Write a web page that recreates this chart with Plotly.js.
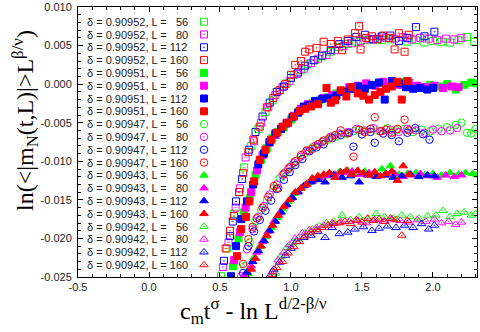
<!DOCTYPE html>
<html><head><meta charset="utf-8">
<script src="https://cdn.plot.ly/plotly-3.0.1.min.js"></script>
<style>html,body{margin:0;padding:0;background:#fff}#plot{width:480px;height:332px}</style>
</head><body><div id="plot"></div>
<script>
// ---------- DATA ----------
const deltas = ["0.90952", "0.90951", "0.90947", "0.90943", "0.90942"];
const sizesL = [56, 80, 112, 160];
const xTickVals = [-0.5, 0, 0.5, 1, 1.5, 2];
const xTickText = ["-0.5", "0.0", "0.5", "1.0", "1.5", "2.0"];
const yTickVals = [0.010, 0.005, 0, -0.005, -0.010, -0.015, -0.020, -0.025];
const yTickText = ["0.010", "0.005", "0.000", "-0.005", "-0.010", "-0.015", "-0.020", "-0.025"];

// delta = 0.90952 (open squares)
const d90952_L56_x = [0.507,0.55,0.60,0.635,0.67,0.72,0.77,0.82,0.87,0.92,0.97,1.02,1.07,1.12,1.17,1.22,1.28,1.34,1.40,1.46,1.52,1.58,1.64,1.70,1.76,1.82,1.88,1.94,2.00,2.06,2.12,2.18,2.24,2.29];
const d90952_L56_y = [-0.0249,-0.0213,-0.0168,-0.0140,-0.0108,-0.0080,-0.0058,-0.0036,-0.0021,-0.0008,0.0001,0.0012,0.0018,0.0026,0.0031,0.0036,0.0042,0.0048,0.0052,0.0055,0.0057,0.0058,0.0057,0.0058,0.0056,0.0055,0.0057,0.0054,0.0056,0.0055,0.0054,0.0057,0.0061,0.0055];
const d90952_L80_x = [0.52,0.56,0.61,0.64,0.68,0.74,0.79,0.84,0.89,0.94,0.99,1.04,1.09,1.14,1.19,1.25,1.31,1.37,1.43,1.49,1.55,1.61,1.67,1.73,1.79,1.85,1.91,1.97,2.03,2.09,2.15,2.20];
const d90952_L80_y = [-0.0237,-0.0205,-0.0160,-0.0135,-0.0095,-0.0074,-0.0050,-0.0030,-0.0014,-0.0004,0.0004,0.0013,0.0020,0.0027,0.0033,0.0038,0.0044,0.0049,0.0053,0.0056,0.0058,0.0059,0.0060,0.0059,0.0061,0.0058,0.0060,0.0059,0.0057,0.0059,0.0058,0.0060];
const d90952_L112_x = [0.528,0.57,0.59,0.613,0.656,0.706,0.75,0.80,0.85,0.90,0.95,1.00,1.05,1.10,1.16,1.22,1.28,1.34,1.40,1.46,1.52,1.58,1.64,1.70,1.76,1.82,1.88,1.94,2.01];
const d90952_L112_y = [-0.0229,-0.0197,-0.0178,-0.0152,-0.0123,-0.0085,-0.0062,-0.0042,-0.0024,-0.0010,-0.0003,0.0008,0.0015,0.0024,0.0031,0.0037,0.0044,0.0052,0.0056,0.0061,0.0064,0.0058,0.0062,0.0063,0.0056,0.0060,0.0074,0.0062,0.0068];
const d90952_L160_x = [0.54,0.571,0.599,0.635,0.663,0.70,0.735,0.78,0.83,0.876,0.92,0.96,1.00,1.03,1.07,1.10,1.13,1.18,1.23,1.28,1.33,1.36,1.40,1.45,1.48,1.49,1.53,1.57,1.61,1.65,1.69,1.73,1.76,1.80,1.83];
const d90952_L160_y = [-0.0213,-0.0190,-0.0171,-0.0140,-0.0115,-0.0088,-0.0072,-0.0055,-0.0030,-0.0018,-0.0008,0.0000,0.0012,0.0025,0.0030,0.0042,0.0045,0.0047,0.0055,0.0052,0.0056,0.0044,0.0058,0.0066,0.0075,0.0045,0.0060,0.0062,0.0058,0.0063,0.0060,0.0045,0.0066,0.0042,0.0064];

// delta = 0.90951 (filled squares)
const d90951_L56_x = [0.592,0.63,0.67,0.71,0.75,0.79,0.83,0.87,0.91,0.95,1.00,1.05,1.10,1.15,1.20,1.26,1.32,1.38,1.44,1.50,1.56,1.62,1.68,1.74,1.80,1.86,1.92,1.98,2.04,2.10,2.16,2.22,2.27,2.31];
const d90951_L56_y = [-0.0236,-0.0200,-0.0166,-0.0148,-0.0118,-0.0098,-0.0083,-0.0070,-0.0062,-0.0056,-0.0046,-0.0036,-0.0030,-0.0025,-0.0021,-0.0017,-0.0012,-0.0009,-0.0005,-0.0003,-0.0001,0.0002,-0.0002,0.0000,0.0003,-0.0003,-0.0004,-0.0001,-0.0003,0.0000,-0.0007,-0.0001,0.0002,0.0001];
const d90951_L80_x = [0.60,0.64,0.68,0.72,0.76,0.80,0.845,0.89,0.93,0.97,1.02,1.07,1.12,1.17,1.23,1.29,1.35,1.41,1.47,1.53,1.59,1.65,1.71,1.77,1.83,1.89,1.95,2.01,2.07,2.13,2.18];
const d90951_L80_y = [-0.0228,-0.0192,-0.0160,-0.0140,-0.0112,-0.0092,-0.0076,-0.0066,-0.0058,-0.0050,-0.0041,-0.0032,-0.0026,-0.0022,-0.0018,-0.0014,-0.0010,-0.0004,-0.0002,0.0001,-0.0002,0.0003,0.0002,-0.0001,0.0002,-0.0002,-0.0004,-0.0002,-0.0005,-0.0003,-0.0004];
const d90951_L112_x = [0.578,0.613,0.65,0.69,0.734,0.77,0.81,0.85,0.89,0.93,0.97,1.01,1.05,1.09,1.13,1.17,1.22,1.27,1.32,1.37,1.42,1.47,1.52,1.57,1.62,1.66,1.71,1.76,1.81,1.86,1.91,1.96,2.00];
const d90951_L112_y = [-0.0249,-0.0210,-0.0175,-0.0152,-0.0130,-0.0104,-0.0090,-0.0075,-0.0064,-0.0058,-0.0051,-0.0043,-0.0037,-0.0029,-0.0027,-0.0022,-0.0019,-0.0018,-0.0015,-0.0010,-0.0006,-0.0003,-0.0006,-0.0001,0.0002,-0.0020,0.0004,0.0001,-0.0004,-0.0006,-0.0005,-0.0007,-0.0005];
const d90951_L160_x = [0.62,0.649,0.684,0.706,0.741,0.78,0.82,0.86,0.90,0.94,0.98,1.02,1.06,1.10,1.14,1.19,1.25,1.28,1.31,1.35,1.39,1.43,1.47,1.51,1.55,1.59,1.63,1.67,1.71,1.75,1.78,1.82];
const d90951_L160_y = [-0.0223,-0.0188,-0.0172,-0.0152,-0.0126,-0.0098,-0.0085,-0.0072,-0.0063,-0.0055,-0.0050,-0.0042,-0.0035,-0.0032,-0.0029,-0.0026,-0.0005,-0.0024,-0.0021,-0.0008,-0.0016,-0.0004,-0.0012,-0.0015,-0.0020,-0.0014,-0.0010,-0.0006,-0.0003,0.0003,-0.0020,0.0004];

// delta = 0.90947 (open circles)
const d90947_L56_x = [0.67,0.71,0.75,0.79,0.83,0.875,0.92,0.96,1.00,1.05,1.10,1.15,1.20,1.26,1.32,1.38,1.44,1.50,1.56,1.62,1.68,1.74,1.80,1.86,1.92,1.98,2.04,2.10,2.16,2.20,2.24,2.27,2.30];
const d90947_L56_y = [-0.0236,-0.0205,-0.0178,-0.0163,-0.0150,-0.0135,-0.0122,-0.0114,-0.0106,-0.0098,-0.0089,-0.0082,-0.0077,-0.0072,-0.0068,-0.0064,-0.0061,-0.0060,-0.0058,-0.0061,-0.0057,-0.0060,-0.0058,-0.0062,-0.0059,-0.0061,-0.0058,-0.0056,-0.0053,-0.0050,-0.0063,-0.0064,-0.0058];
const d90947_L80_x = [0.649,0.69,0.73,0.77,0.81,0.85,0.90,0.94,0.98,1.02,1.07,1.12,1.17,1.22,1.28,1.34,1.40,1.46,1.52,1.58,1.64,1.70,1.76,1.82,1.88,1.94,2.00,2.06,2.12,2.17];
const d90947_L80_y = [-0.0249,-0.0214,-0.0188,-0.0172,-0.0158,-0.0143,-0.0130,-0.0118,-0.0110,-0.0102,-0.0094,-0.0086,-0.0080,-0.0075,-0.0068,-0.0064,-0.0062,-0.0058,-0.0060,-0.0057,-0.0061,-0.0059,-0.0062,-0.0058,-0.0060,-0.0063,-0.0059,-0.0061,-0.0060,-0.0057];
const d90947_L112_x = [0.663,0.70,0.74,0.78,0.82,0.86,0.90,0.95,0.99,1.03,1.08,1.13,1.18,1.23,1.29,1.35,1.41,1.44,1.50,1.56,1.59,1.65,1.71,1.76,1.82,1.875,1.93,1.975];
const d90947_L112_y = [-0.0245,-0.0210,-0.0191,-0.0176,-0.0164,-0.0151,-0.0136,-0.0124,-0.0114,-0.0105,-0.0097,-0.0087,-0.0082,-0.0078,-0.0070,-0.0066,-0.0063,-0.0081,-0.0065,-0.0062,-0.0076,-0.0064,-0.0066,-0.0074,-0.0063,-0.0057,-0.0065,-0.0072];
const d90947_L160_x = [0.663,0.70,0.73,0.76,0.80,0.84,0.88,0.91,0.95,0.99,1.03,1.07,1.11,1.15,1.19,1.23,1.27,1.31,1.35,1.40,1.44,1.48,1.52,1.56,1.59,1.63,1.67,1.71,1.75,1.80,1.83];
const d90947_L160_y = [-0.0233,-0.0201,-0.0185,-0.0174,-0.0160,-0.0146,-0.0132,-0.0135,-0.0116,-0.0108,-0.0100,-0.0092,-0.0086,-0.0084,-0.0078,-0.0073,-0.0070,-0.0066,-0.0060,-0.0064,-0.0094,-0.0059,-0.0062,-0.0058,-0.0043,-0.0061,-0.0059,-0.0063,-0.0058,-0.0046,-0.0060];

// delta = 0.90943 (filled triangles)
const d90943_L56_x = [0.70,0.74,0.78,0.82,0.86,0.90,0.94,0.98,1.02,1.07,1.12,1.17,1.22,1.28,1.34,1.40,1.46,1.52,1.58,1.64,1.70,1.76,1.82,1.88,1.94,2.00,2.06,2.12,2.18,2.23,2.28,2.31];
const d90943_L56_y = [-0.0246,-0.0225,-0.0211,-0.0198,-0.0186,-0.0173,-0.0162,-0.0152,-0.0142,-0.0135,-0.0128,-0.0124,-0.0120,-0.0117,-0.0114,-0.0112,-0.0116,-0.0113,-0.0118,-0.0110,-0.0106,-0.0117,-0.0116,-0.0115,-0.0118,-0.0116,-0.0118,-0.0115,-0.0117,-0.0115,-0.0116,-0.0118];
const d90943_L80_x = [0.67,0.72,0.76,0.80,0.84,0.88,0.92,0.96,1.00,1.05,1.10,1.15,1.20,1.25,1.31,1.37,1.43,1.49,1.55,1.61,1.67,1.73,1.79,1.85,1.91,1.97,2.03,2.09,2.15,2.20];
const d90943_L80_y = [-0.0248,-0.0236,-0.0218,-0.0204,-0.0191,-0.0178,-0.0167,-0.0157,-0.0148,-0.0139,-0.0131,-0.0126,-0.0122,-0.0119,-0.0117,-0.0115,-0.0113,-0.0117,-0.0115,-0.0119,-0.0118,-0.0116,-0.0120,-0.0118,-0.0116,-0.0119,-0.0121,-0.0118,-0.0120,-0.0118];
const d90943_L112_x = [0.69,0.73,0.77,0.81,0.85,0.89,0.93,0.97,1.01,1.05,1.09,1.14,1.19,1.24,1.30,1.36,1.42,1.48,1.54,1.60,1.66,1.72,1.78,1.84,1.90,1.96,2.01];
const d90943_L112_y = [-0.0244,-0.0230,-0.0216,-0.0203,-0.0190,-0.0178,-0.0166,-0.0156,-0.0147,-0.0140,-0.0132,-0.0127,-0.0124,-0.0127,-0.0118,-0.0121,-0.0119,-0.0127,-0.0118,-0.0120,-0.0118,-0.0121,-0.0119,-0.0117,-0.0120,-0.0118,-0.0119];
const d90943_L160_x = [0.72,0.75,0.79,0.83,0.87,0.91,0.95,0.99,1.03,1.07,1.11,1.15,1.19,1.23,1.27,1.31,1.35,1.39,1.43,1.47,1.51,1.55,1.59,1.63,1.67,1.71,1.75,1.79,1.83];
const d90943_L160_y = [-0.0240,-0.0226,-0.0210,-0.0196,-0.0183,-0.0170,-0.0159,-0.0150,-0.0140,-0.0135,-0.0130,-0.0122,-0.0119,-0.0117,-0.0115,-0.0121,-0.0114,-0.0112,-0.0117,-0.0112,-0.0115,-0.0118,-0.0114,-0.0119,-0.0116,-0.0113,-0.0125,-0.0106,-0.0117];

// delta = 0.90942 (open triangles)
const d90942_L56_x = [0.89,0.93,0.97,1.01,1.05,1.10,1.15,1.20,1.25,1.30,1.36,1.42,1.48,1.54,1.60,1.66,1.72,1.78,1.84,1.90,1.96,2.02,2.07,2.12,2.17,2.22,2.27,2.30];
const d90942_L56_y = [-0.0245,-0.0223,-0.0212,-0.0206,-0.0200,-0.0193,-0.0188,-0.0184,-0.0180,-0.0178,-0.0170,-0.0176,-0.0172,-0.0175,-0.0168,-0.0172,-0.0174,-0.0170,-0.0172,-0.0174,-0.0171,-0.0170,-0.0164,-0.0172,-0.0168,-0.0166,-0.0170,-0.0168];
const d90942_L80_x = [0.87,0.91,0.95,0.99,1.03,1.08,1.13,1.18,1.23,1.29,1.35,1.41,1.47,1.53,1.59,1.65,1.71,1.77,1.83,1.89,1.95,2.01,2.06,2.11,2.16,2.20];
const d90942_L80_y = [-0.0243,-0.0228,-0.0218,-0.0208,-0.0200,-0.0193,-0.0189,-0.0186,-0.0183,-0.0180,-0.0179,-0.0178,-0.0177,-0.0180,-0.0176,-0.0178,-0.0175,-0.0177,-0.0179,-0.0176,-0.0178,-0.0175,-0.0180,-0.0178,-0.0182,-0.0179];
const d90942_L112_x = [0.85,0.88,0.92,0.96,1.00,1.04,1.09,1.14,1.19,1.24,1.29,1.34,1.40,1.45,1.51,1.57,1.62,1.68,1.74,1.80,1.86,1.92,1.97,2.01];
const d90942_L112_y = [-0.0249,-0.0240,-0.0231,-0.0222,-0.0213,-0.0204,-0.0199,-0.0196,-0.0191,-0.0199,-0.0186,-0.0194,-0.0192,-0.0188,-0.0185,-0.0190,-0.0187,-0.0184,-0.0186,-0.0183,-0.0186,-0.0181,-0.0188,-0.0183];
const d90942_L160_x = [0.87,0.90,0.94,0.98,1.02,1.06,1.10,1.14,1.18,1.22,1.26,1.30,1.34,1.38,1.42,1.46,1.50,1.54,1.58,1.62,1.66,1.70,1.74,1.78,1.82];
const d90942_L160_y = [-0.0247,-0.0238,-0.0230,-0.0219,-0.0211,-0.0204,-0.0197,-0.0192,-0.0189,-0.0186,-0.0183,-0.0181,-0.0180,-0.0178,-0.0181,-0.0176,-0.0179,-0.0174,-0.0177,-0.0175,-0.0178,-0.0174,-0.0176,-0.0196,-0.0177];

const seriesData = [
  [[d90952_L56_x, d90952_L56_y], [d90952_L80_x, d90952_L80_y], [d90952_L112_x, d90952_L112_y], [d90952_L160_x, d90952_L160_y]],
  [[d90951_L56_x, d90951_L56_y], [d90951_L80_x, d90951_L80_y], [d90951_L112_x, d90951_L112_y], [d90951_L160_x, d90951_L160_y]],
  [[d90947_L56_x, d90947_L56_y], [d90947_L80_x, d90947_L80_y], [d90947_L112_x, d90947_L112_y], [d90947_L160_x, d90947_L160_y]],
  [[d90943_L56_x, d90943_L56_y], [d90943_L80_x, d90943_L80_y], [d90943_L112_x, d90943_L112_y], [d90943_L160_x, d90943_L160_y]],
  [[d90942_L56_x, d90942_L56_y], [d90942_L80_x, d90942_L80_y], [d90942_L112_x, d90942_L112_y], [d90942_L160_x, d90942_L160_y]]
];

// ---------- STYLE ----------
const colorsL = ["#00ff00", "#ff00ff", "#0000ff", "#ff0000"];
const symbols = ["square-open-dot", "square", "circle-open-dot", "triangle-up", "triangle-up-open-dot"];
const symSize = [7, 7, 7.5, 7.5, 7.5];

// plot area in pixels
const W = 480, H = 332, ML = 78, MR = 3, MT = 7, MB = 55;
const PW = W - ML - MR, PH = H - MT - MB;
const px2paperX = p => (p - ML) / PW;
const py2paperY = p => (H - MB - p) / PH;

const traces = [];
const annotations = [];
const legX = [], legY = [], legSym = [], legCol = [];
let row = 0;
deltas.forEach((d, gi) => {
  sizesL.forEach((L, li) => {
    const [xs, ys] = seriesData[gi][li];
    const label = "δ = " + d + ", L = " + (L < 100 ? "\u2007" + L : String(L));
    traces.push({
      type: "scatter", mode: "markers", x: xs, y: ys, name: label,
      marker: { symbol: symbols[gi], size: symSize[gi], color: colorsL[li], line: { color: colorsL[li], width: 1 } },
      hoverinfo: "x+y+name"
    });
    const ry = 21.7 + 12.8 * row;
    annotations.push({
      xref: "paper", yref: "paper", x: px2paperX(85), y: py2paperY(ry),
      xanchor: "left", yanchor: "middle", showarrow: false, text: label,
      font: { family: "Liberation Sans, Arial, sans-serif", size: 11, color: "#222" }
    });
    legX.push(px2paperX(204)); legY.push(py2paperY(ry));
    legSym.push(symbols[gi]); legCol.push(colorsL[li]);
    row++;
  });
});
// legend keys (drawn on a hidden overlay frame)
legSym.forEach((s, i) => {
  traces.push({
    type: "scatter", mode: "markers", x: [legX[i]], y: [legY[i]], xaxis: "x2", yaxis: "y2",
    showlegend: false, hoverinfo: "skip",
    marker: { symbol: s, size: symSize[Math.floor(i / 4)], color: legCol[i], line: { color: legCol[i], width: 1 } }
  });
});

annotations.push({
  xref: "paper", yref: "paper", x: px2paperX(25), y: py2paperY(121),
  xanchor: "center", yanchor: "middle", textangle: -90, showarrow: false,
  text: "ln(&lt;|m<sub>N</sub>(t,L)|&gt;L<sup>β/ν</sup>)",
  font: { family: "Liberation Serif, Times New Roman, serif", size: 24, color: "#000" }
});
annotations.push({
  xref: "paper", yref: "paper", x: px2paperX(253), y: py2paperY(311),
  xanchor: "center", yanchor: "middle", showarrow: false,
  text: "c<sub>m</sub>t<sup>σ</sup> - ln L<sup>d/2-β/ν</sup>",
  font: { family: "Liberation Serif, Times New Roman, serif", size: 24, color: "#000" }
});

const axCommon = {
  tickmode: "array", ticks: "inside", ticklen: 5, tickwidth: 1, tickcolor: "#000",
  showline: true, linecolor: "#000", linewidth: 1, mirror: "allticks",
  showgrid: false, zeroline: false,
  tickfont: { family: "Liberation Sans, Arial, sans-serif", size: 11, color: "#222" }
};
const hiddenAx = {
  range: [0, 1], visible: false, fixedrange: true, showticklabels: false,
  ticks: "", showgrid: false, zeroline: false, showline: false
};
const layout = {
  width: W, height: H,
  margin: { l: ML, r: MR, t: MT, b: MB, pad: 0 },
  paper_bgcolor: "#fff", plot_bgcolor: "#fff", showlegend: false,
  xaxis: Object.assign({}, axCommon, {
    range: [-0.5, 2.31], tickvals: xTickVals, ticktext: xTickText,
    minor: { tickmode: "linear", tick0: -0.5, dtick: 0.1, ticks: "inside", ticklen: 3, tickcolor: "#000", showgrid: false }
  }),
  yaxis: Object.assign({}, axCommon, {
    range: [-0.025, 0.010], tickvals: yTickVals, ticktext: yTickText, ticklabelstandoff: 3,
    minor: { tickmode: "linear", tick0: 0, dtick: 0.001, ticks: "inside", ticklen: 3, tickcolor: "#000", showgrid: false }
  }),
  xaxis2: Object.assign({ overlaying: "x", anchor: "y2" }, hiddenAx),
  yaxis2: Object.assign({ overlaying: "y", anchor: "x2" }, hiddenAx),
  annotations: annotations
};
Plotly.newPlot("plot", traces, layout, { staticPlot: true, displayModeBar: false });
</script></body></html>
